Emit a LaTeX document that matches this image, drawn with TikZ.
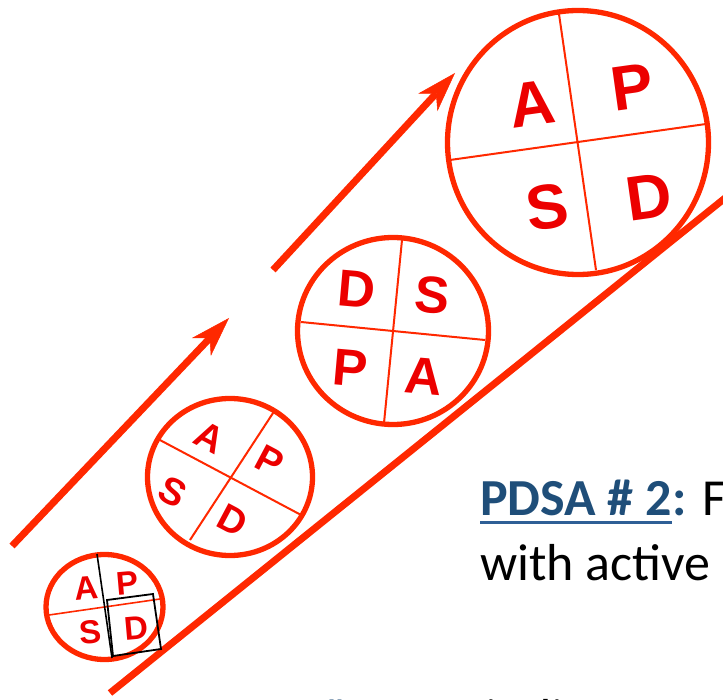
\documentclass[tikz,border=0pt]{standalone}
\usepackage{fontspec}
\setmainfont{Carlito}
\newfontfamily\letfont{Liberation Sans}
\usetikzlibrary{arrows.meta,calc,shapes.geometric}
\definecolor{ringred}{RGB}{255,40,0}
\definecolor{letred}{RGB}{236,0,0}
\definecolor{pdsablue}{RGB}{31,78,121}
\definecolor{ulblue}{RGB}{46,95,150}
\begin{document}
\begin{tikzpicture}[x=1pt,y=-1pt,
  ring/.style={draw=ringred, line width=5.3pt, ellipse, inner sep=0, outer sep=0},
  divider/.style={draw=ringred, line width=2pt},
  ltr/.style={text=letred, font=\letfont\bfseries\fontsize{#1}{#1}\selectfont, inner sep=0},
  bigline/.style={draw=ringred, line width=7pt},
  upArrow/.style={bigline, -{Stealth[length=40pt, width=26pt, inset=12pt, line width=0.5pt]}},
  txt/.style={inner sep=0, font=\fontsize{52}{52}\selectfont}
]
\useasboundingbox (0,0) rectangle (723,700);
\clip (0,0) rectangle (723,700);

% connectors
\coordinate (a1s) at (12,546);
\coordinate (a1e) at (229,318);
\coordinate (a2s) at (273,270);
\coordinate (a2e) at (455,73);
\coordinate (ls) at (110,693);
\coordinate (le) at (745,182);
\draw[upArrow] (a1s) -- (a1e);
\draw[upArrow] (a2s) -- (a2e);
\draw[bigline] (ls) -- (le);

% small circle
\node[ring, minimum width=117, minimum height=105] (c1) at (104.5,607) {};
\coordinate (c1h1) at (49,615); \coordinate (c1h2) at (160,599);
\draw[divider, line width=1.6pt] (c1h1) -- (c1h2);
\node[ltr=33, rotate=5] (c1A) at (86,588) {A};
\node[ltr=33, rotate=5] (c1P) at (127,583) {P};
\node[ltr=33, rotate=5] (c1S) at (90,632) {S};
\node[ltr=33, rotate=5] (c1D) at (136,628) {D};
\coordinate (c1v1) at (97,554); \coordinate (c1v2) at (112,658);
\draw[black, line width=1.6pt] (c1v1) -- (c1v2);
\coordinate (r1) at (107,600); \coordinate (r2) at (153,594);
\coordinate (r3) at (161,649); \coordinate (r4) at (113,656);
\draw[black, line width=1.8pt] (r1) -- (r2) -- (r3) -- (r4) -- cycle;

% circle 2
\node[ring, minimum width=165, minimum height=157] (c2) at (230,477) {};
\coordinate (c2h1) at (158,439); \coordinate (c2h2) at (303,516);
\coordinate (c2v1) at (275,410); \coordinate (c2v2) at (190,540);
\draw[divider] (c2h1) -- (c2h2);
\draw[divider] (c2v1) -- (c2v2);
\node[ltr=38, rotate=-28] (c2A) at (210,437) {A};
\node[ltr=38, rotate=-28] (c2P) at (270,461) {P};
\node[ltr=38, rotate=-28] (c2S) at (173,492) {S};
\node[ltr=38, rotate=-28] (c2D) at (233,520) {D};

% circle 3
\node[ring, minimum width=191, minimum height=187] (c3) at (393,331) {};
\coordinate (c3h1) at (301,322); \coordinate (c3h2) at (485,340);
\coordinate (c3v1) at (402,240); \coordinate (c3v2) at (384,423);
\draw[divider] (c3h1) -- (c3h2);
\draw[divider] (c3v1) -- (c3v2);
\node[ltr=52, rotate=-5] (c3D) at (357,289) {D};
\node[ltr=52, rotate=-5] (c3S) at (432,295) {S};
\node[ltr=52, rotate=-5] (c3P) at (350,368) {P};
\node[ltr=52, rotate=-5] (c3A) at (424,376) {A};

% big circle
\node[ring, minimum width=261, minimum height=264] (c4) at (578,142.5) {};
\coordinate (c4h1) at (450,160); \coordinate (c4h2) at (706,124);
\coordinate (c4v1) at (559,14); \coordinate (c4v2) at (596,270);
\draw[divider] (c4h1) -- (c4h2);
\draw[divider] (c4v1) -- (c4v2);
\node[ltr=63, rotate=8] (c4A) at (532,104) {A};
\node[ltr=63, rotate=8] (c4P) at (632,87) {P};
\node[ltr=63, rotate=8] (c4S) at (547,207) {S};
\node[ltr=63, rotate=8] (c4D) at (649,197) {D};

% text PDSA # 2
\node[txt, anchor=base west, text=pdsablue] (t2a) at (480,515) {\bfseries PDSA \# 2};
\node[txt, anchor=base west] (t2b) at (t2a.base east) {\textcolor{pdsablue}{\bfseries :} F};
\draw[ulblue, line width=2.2pt] ($(t2a.base west)+(0,7.5)$) -- ($(t2a.base east)+(0,7.5)$);
\node[txt, anchor=base west] (t2c) at (480,580) {with active};

% text PDSA # 1 (cut off at the bottom edge)
\node[txt, anchor=base west, text=pdsablue] (t1a) at (193,735) {\bfseries PDSA \# 1};
\node[txt, anchor=base west] (t1b) at (t1a.base east) {\textcolor{pdsablue}{\bfseries :} Periodic};
\end{tikzpicture}
\end{document}
